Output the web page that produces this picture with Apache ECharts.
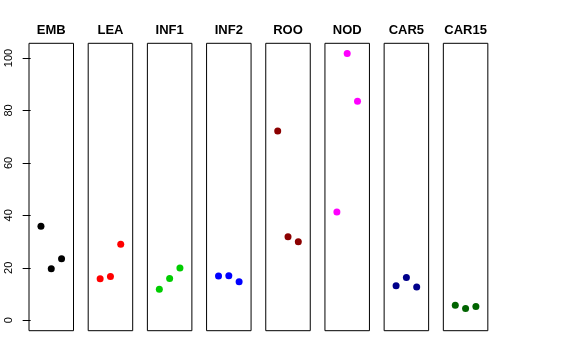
<!DOCTYPE html>
<html>
<head>
<meta charset="utf-8">
<script src="https://cdn.jsdelivr.net/npm/echarts@6/dist/echarts.min.js"></script>
<style>html,body{margin:0;padding:0;background:#fff}#c{width:576px;height:360px}</style>
</head>
<body>
<div id="c"></div>
<script>
var categories = ["EMB", "LEA", "INF1", "INF2", "ROO", "NOD", "CAR5", "CAR15"];
var colors = ["#000000", "#FF0000", "#00CD00", "#0000FF", "#8B0000", "#FF00FF", "#00008B", "#006400"];
var EMB = [35.8, 19.6, 23.4];
var LEA = [15.8, 16.7, 29.0];
var INF1 = [11.8, 15.9, 19.9];
var INF2 = [16.9, 17.0, 14.7];
var ROO = [72.2, 31.8, 29.9];
var NOD = [41.3, 101.7, 83.5];
var CAR5 = [13.1, 16.3, 12.7];
var CAR15 = [5.7, 4.5, 5.2];
var yTicks = [0, 20, 40, 60, 80, 100];

(function () {
  var values = [EMB, LEA, INF1, INF2, ROO, NOD, CAR5, CAR15];
  var chart = echarts.init(document.getElementById('c'), null, {renderer: 'canvas'});
  var grids = [], xAxes = [], yAxes = [], series = [], graphics = [];
  var left0 = 29, pitch = 59.19, pw = 44.5, pTop = 43.3, ph = 287.4;
  categories.forEach(function (name, i) {
    var l = left0 + i * pitch;
    grids.push({left: l, top: pTop, width: pw, height: ph, show: true, borderColor: '#000', borderWidth: 1, backgroundColor: 'transparent'});
    xAxes.push({type: 'value', gridIndex: i, min: -0.16, max: 4.16, show: false});
    yAxes.push({
      type: 'value', gridIndex: i, min: -4.0, max: 105.6,
      show: i === 0,
      axisLine: {show: false},
      splitLine: {show: false},
      axisTick: {show: true, length: 8, inside: false, customValues: yTicks, lineStyle: {color: '#000', width: 1}},
      axisLabel: {show: true, customValues: yTicks, rotate: 90, margin: 15, color: '#000', fontSize: 11, fontFamily: 'Liberation Sans, Arial, sans-serif'}
    });
    series.push({
      type: 'scatter', xAxisIndex: i, yAxisIndex: i, symbol: 'circle', symbolSize: 7,
      itemStyle: {color: colors[i], opacity: 1},
      data: values[i].map(function (v, j) { return [j + 1, v]; }),
      silent: true, animation: false
    });
    graphics.push({
      type: 'text', x: l + pw / 2, y: 30,
      style: {text: name, fill: '#000', font: 'bold 13px "Liberation Sans", Arial, sans-serif', textAlign: 'center', textVerticalAlign: 'middle'}
    });
  });
  chart.setOption({
    animation: false,
    backgroundColor: '#fff',
    grid: grids, xAxis: xAxes, yAxis: yAxes, series: series, graphic: graphics
  });
})();
</script>
</body>
</html>
